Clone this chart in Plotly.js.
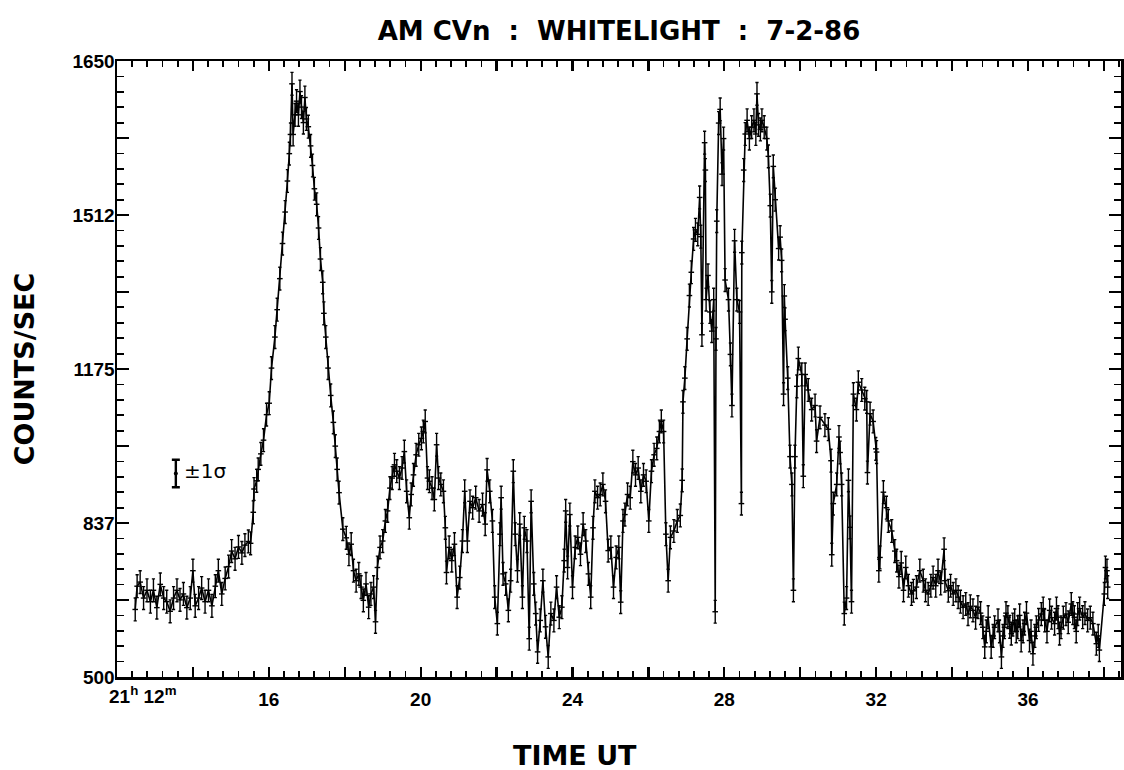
<!DOCTYPE html>
<html>
<head>
<meta charset="utf-8">
<script src="https://cdn.plot.ly/plotly-3.0.1.min.js"></script>
<style>
  html, body { margin: 0; padding: 0; background: #fff; }
  #chart { width: 1124px; height: 770px; }
</style>
</head>
<body>
<div id="chart"></div>
<script>
// ---- Data (time in minutes after 21h, counts/sec) ----
const TIME_MIN = [
  12.48,12.53,12.61,12.70,12.79,12.88,12.96,13.05,13.14,13.23,13.31,13.40,13.49,13.58,13.66,13.75,13.84,13.93,14.00,14.06,
  14.15,14.23,14.32,14.41,14.50,14.59,14.67,14.76,14.85,14.94,15.02,15.11,15.20,15.29,15.37,15.46,15.52,15.59,15.61,15.68,
  15.72,15.79,15.86,15.94,16.01,16.07,16.16,16.22,16.29,16.36,16.43,16.49,16.54,16.57,16.61,16.64,16.69,16.73,16.78,16.82,
  16.86,16.91,16.95,16.99,17.04,17.10,17.15,17.20,17.26,17.31,17.36,17.42,17.45,17.50,17.56,17.63,17.70,17.75,17.80,17.85,
  17.95,18.04,18.11,18.17,18.23,18.30,18.37,18.43,18.49,18.56,18.63,18.69,18.76,18.81,18.86,18.93,19.00,19.07,19.13,19.19,
  19.25,19.31,19.37,19.44,19.51,19.57,19.63,19.70,19.75,19.81,19.88,19.95,20.02,20.07,20.12,20.18,20.23,20.30,20.36,20.42,
  20.47,20.53,20.60,20.65,20.68,20.75,20.82,20.89,20.96,21.03,21.10,21.16,21.23,21.30,21.37,21.45,21.54,21.63,21.70,21.75,
  21.82,21.89,21.95,22.02,22.09,22.12,22.17,22.24,22.31,22.37,22.44,22.49,22.55,22.61,22.68,22.73,22.80,22.86,22.91,22.98,
  23.03,23.08,23.15,23.22,23.29,23.36,23.43,23.51,23.58,23.65,23.72,23.78,23.82,23.87,23.93,24.00,24.07,24.14,24.21,24.28,
  24.35,24.42,24.48,24.54,24.59,24.66,24.73,24.80,24.87,24.94,25.01,25.08,25.15,25.22,25.27,25.33,25.38,25.45,25.52,25.59,
  25.66,25.73,25.80,25.87,25.94,26.01,26.08,26.15,26.22,26.29,26.34,26.40,26.46,26.52,26.58,26.67,26.76,26.84,26.89,26.91,
  26.96,27.02,27.08,27.13,27.19,27.24,27.30,27.35,27.38,27.41,27.48,27.50,27.52,27.57,27.62,27.67,27.72,27.76,27.78,27.80,
  27.85,27.89,27.94,27.98,28.02,28.11,28.16,28.20,28.27,28.33,28.40,28.45,28.46,28.51,28.55,28.60,28.66,28.72,28.78,28.83,
  28.86,28.90,28.95,28.99,29.05,29.12,29.16,29.21,29.25,29.29,29.34,29.43,29.47,29.51,29.56,29.58,29.60,29.67,29.73,29.78,
  29.82,29.86,29.91,29.95,30.04,30.08,30.13,30.21,30.30,30.39,30.43,30.52,30.65,30.74,30.81,30.83,30.87,30.96,31.02,31.05,
  31.09,31.16,31.22,31.27,31.31,31.35,31.40,31.48,31.53,31.62,31.70,31.75,31.77,31.84,31.92,31.99,32.01,32.07,32.10,32.19,
  32.27,32.32,32.41,32.49,32.54,32.60,32.66,32.72,32.78,32.85,32.93,32.98,33.06,33.15,33.24,33.30,33.37,33.44,33.50,33.57,
  33.63,33.70,33.79,33.81,33.90,33.96,34.03,34.10,34.16,34.22,34.29,34.36,34.42,34.48,34.55,34.62,34.68,34.75,34.81,34.86,
  34.90,34.95,35.03,35.08,35.12,35.21,35.25,35.30,35.34,35.38,35.42,35.47,35.52,35.56,35.60,35.65,35.69,35.73,35.78,35.82,
  35.87,35.91,35.96,36.04,36.08,36.13,36.18,36.22,36.28,36.35,36.40,36.44,36.50,36.57,36.62,36.70,36.75,36.79,36.83,36.87,
  36.93,37.00,37.06,37.14,37.18,37.22,37.27,37.31,37.36,37.44,37.50,37.57,37.64,37.71,37.80,37.85,37.88,38.01,38.04,38.08,
  38.10
];
const COUNTS = [
  648,699,708,673,690,665,690,652,703,673,665,644,673,690,669,682,652,673,733,656,
  673,695,665,690,656,699,733,682,716,742,776,759,785,772,789,797,793,861,912,930,
  955,989,1019,1075,1100,1177,1245,1305,1373,1450,1519,1587,1647,1689,1800,1689,1732,1762,1732,1783,
  1749,1715,1770,1723,1706,1664,1621,1570,1536,1484,1416,1365,1297,1245,1177,1117,1058,1006,955,904,
  824,805,769,791,733,711,726,697,668,704,653,682,697,621,740,784,798,842,864,914,
  936,965,951,936,958,994,907,849,900,943,987,1009,1023,1038,1060,936,929,914,889,1009,
  936,922,907,827,729,784,755,791,675,718,798,907,798,885,871,893,864,878,835,954,
  907,842,675,617,813,893,726,704,646,711,951,813,733,835,675,827,798,584,885,704,
  639,555,624,711,610,544,639,624,697,631,653,755,864,740,856,697,784,806,769,835,
  798,726,675,827,907,893,900,922,885,777,784,697,762,784,664,842,856,900,893,972,
  943,958,907,943,929,842,951,987,1001,1038,1060,1038,813,711,806,820,842,854,931,1103,
  1155,1241,1336,1387,1460,1480,1470,1551,1465,1250,1671,1611,1327,1380,1300,1258,1327,643,1241,1499,
  1714,1744,1602,1680,1370,1327,1207,1095,1456,1327,1300,880,1430,1611,1690,1720,1680,1705,1720,1690,
  1778,1710,1700,1720,1705,1680,1641,1533,1344,1619,1546,1439,1464,1413,1120,1335,1284,1155,983,922,
  690,983,1137,1198,1163,940,1163,1129,1086,1095,1017,1069,1052,1043,974,768,880,922,1026,992,
  922,639,673,931,828,665,1120,1086,1146,1129,1110,1103,948,1077,1060,1000,993,733,762,905,
  871,842,820,776,755,720,750,690,740,700,682,689,697,733,711,690,682,700,718,700,
  733,705,780,711,689,700,682,690,675,665,653,660,638,655,646,630,653,640,609,566,
  600,631,566,590,609,624,600,544,590,609,640,631,610,595,615,624,600,609,635,580,
  600,617,640,580,600,551,590,609,625,638,650,624,600,646,630,617,650,631,595,609,
  630,638,620,660,640,631,600,638,650,631,640,624,630,617,573,590,559,682,740,733,
  697
];
const SIGMA = 25;                 // plotted +-1 sigma (counts/sec)
const KEY_TIME = [13.55];         // position of the "+-1 sigma" key
const KEY_COUNTS = [946];

// ---- Axis ticks / labels ----
const X_RANGE = [12, 38.45];
const Y_RANGE = [500, 1850];
const X_LABEL_TICKS = [16, 20, 24, 28, 32, 36];
const X_LABEL_TEXT = ['16', '20', '24', '28', '32', '36'];
const X_LONG_TICKS = [12,14,16,18,20,22,24,26,28,30,32,34,36,38];
const X_START_LABEL = '21<sup>h</sup> 12<sup>m</sup>';
const Y_LABEL_TICKS = [500, 837.5, 1175, 1512.5, 1850];
const Y_LABEL_TEXT = ['500', '837', '1175', '1512', '1650'];
const Y_LONG_TICKS = [668.75, 1006.25, 1343.75, 1681.25];

const TITLE = 'AM CVn  :  WHITELIGHT  :  7-2-86';
const X_TITLE = 'TIME UT';
const Y_TITLE = 'COUNTS/SEC';

const FONT_BIG = 'DejaVu Sans, sans-serif';
const FONT_TICK = 'Liberation Sans Narrow, Liberation Sans, sans-serif';

const traces = [
  {
    x: TIME_MIN, y: COUNTS, type: 'scatter', mode: 'lines+markers',
    line: {color: '#000', width: 1.6},
    marker: {symbol: 'line-ew', size: 4, color: '#000', line: {color: '#000', width: 1.4}},
    error_y: {type: 'constant', value: SIGMA, color: '#000', thickness: 1.4, width: 1.6},
    hoverinfo: 'x+y', showlegend: false
  },
  {
    x: KEY_TIME, y: KEY_COUNTS, type: 'scatter', mode: 'markers',
    xaxis: 'x2', yaxis: 'y2',
    marker: {symbol: 'circle', size: 4, color: '#000'},
    error_y: {type: 'constant', value: SIGMA + 5, color: '#000', thickness: 2.4, width: 4},
    showlegend: false, hoverinfo: 'skip'
  }
];

const axisCommon = {
  showline: true, linecolor: '#000', linewidth: 2.5, mirror: 'allticks',
  ticks: 'inside', tickcolor: '#000', tickwidth: 2.2,
  showgrid: false, zeroline: false, fixedrange: true,
  tickfont: {family: FONT_TICK, size: 19, color: '#000', weight: 'bold'}
};

const layout = {
  width: 1124, height: 770,
  paper_bgcolor: '#fff', plot_bgcolor: '#fff',
  margin: {l: 117, r: 3, t: 61, b: 93},
  title: {
    text: TITLE, x: 0.5, xref: 'paper', y: 1 - 31/770, yref: 'container', yanchor: 'middle',
    font: {family: FONT_BIG, size: 26, color: '#000', weight: 'bold'}
  },
  xaxis: Object.assign({}, axisCommon, {
    range: X_RANGE, tickmode: 'array', tickvals: X_LABEL_TICKS, ticktext: X_LABEL_TEXT,
    ticklen: 10, ticklabelstandoff: 4,
    minor: {tickmode: 'linear', tick0: 12, dtick: 0.4, ticks: 'inside', ticklen: 6, tickwidth: 1.8, tickcolor: '#000', showgrid: false}
  }),
  yaxis: Object.assign({}, axisCommon, {
    range: Y_RANGE, tickmode: 'array', tickvals: Y_LABEL_TICKS, ticktext: Y_LABEL_TEXT,
    ticklen: 12, ticklabelstandoff: -4,
    minor: {tickmode: 'linear', tick0: 500, dtick: 33.75, ticks: 'inside', ticklen: 7, tickwidth: 1.8, tickcolor: '#000', showgrid: false},
    title: {text: Y_TITLE, standoff: 30, font: {family: FONT_BIG, size: 27, color: '#000', weight: 'bold'}}
  }),
  xaxis2: {
    overlaying: 'x', anchor: 'y2', side: 'bottom', range: X_RANGE, fixedrange: true,
    tickmode: 'array', tickvals: X_LONG_TICKS, showticklabels: false,
    ticks: 'inside', ticklen: 10, tickwidth: 2.2, tickcolor: '#000',
    showline: true, linecolor: '#000', linewidth: 2.5, mirror: 'allticks',
    showgrid: false, zeroline: false
  },
  yaxis2: {
    overlaying: 'y', anchor: 'x2', side: 'left', range: Y_RANGE, fixedrange: true,
    tickmode: 'array', tickvals: Y_LONG_TICKS, showticklabels: false,
    ticks: 'inside', ticklen: 12, tickwidth: 2.2, tickcolor: '#000',
    showline: true, linecolor: '#000', linewidth: 2.5, mirror: 'allticks',
    showgrid: false, zeroline: false
  },
  annotations: [
    {
      text: X_START_LABEL, x: 12, xref: 'x', y: 0, yref: 'paper',
      xanchor: 'left', yanchor: 'top', xshift: -10, yshift: -4, showarrow: false,
      font: {family: FONT_TICK, size: 19, color: '#000', weight: 'bold'}
    },
    {
      text: X_TITLE, x: (575 - 117) / 1004, xref: 'paper', y: 0, yref: 'paper',
      xanchor: 'center', yanchor: 'middle', yshift: -78, showarrow: false,
      font: {family: FONT_BIG, size: 27, color: '#000', weight: 'bold'}
    },
    {
      text: '±1σ', x: KEY_TIME[0], xref: 'x', y: KEY_COUNTS[0], yref: 'y',
      xanchor: 'left', yanchor: 'middle', xshift: 6, yshift: 2, showarrow: false,
      font: {family: FONT_BIG, size: 20, color: '#000'}
    }
  ]
};

Plotly.newPlot('chart', traces, layout, {displayModeBar: false, staticPlot: true});
</script>
</body>
</html>
